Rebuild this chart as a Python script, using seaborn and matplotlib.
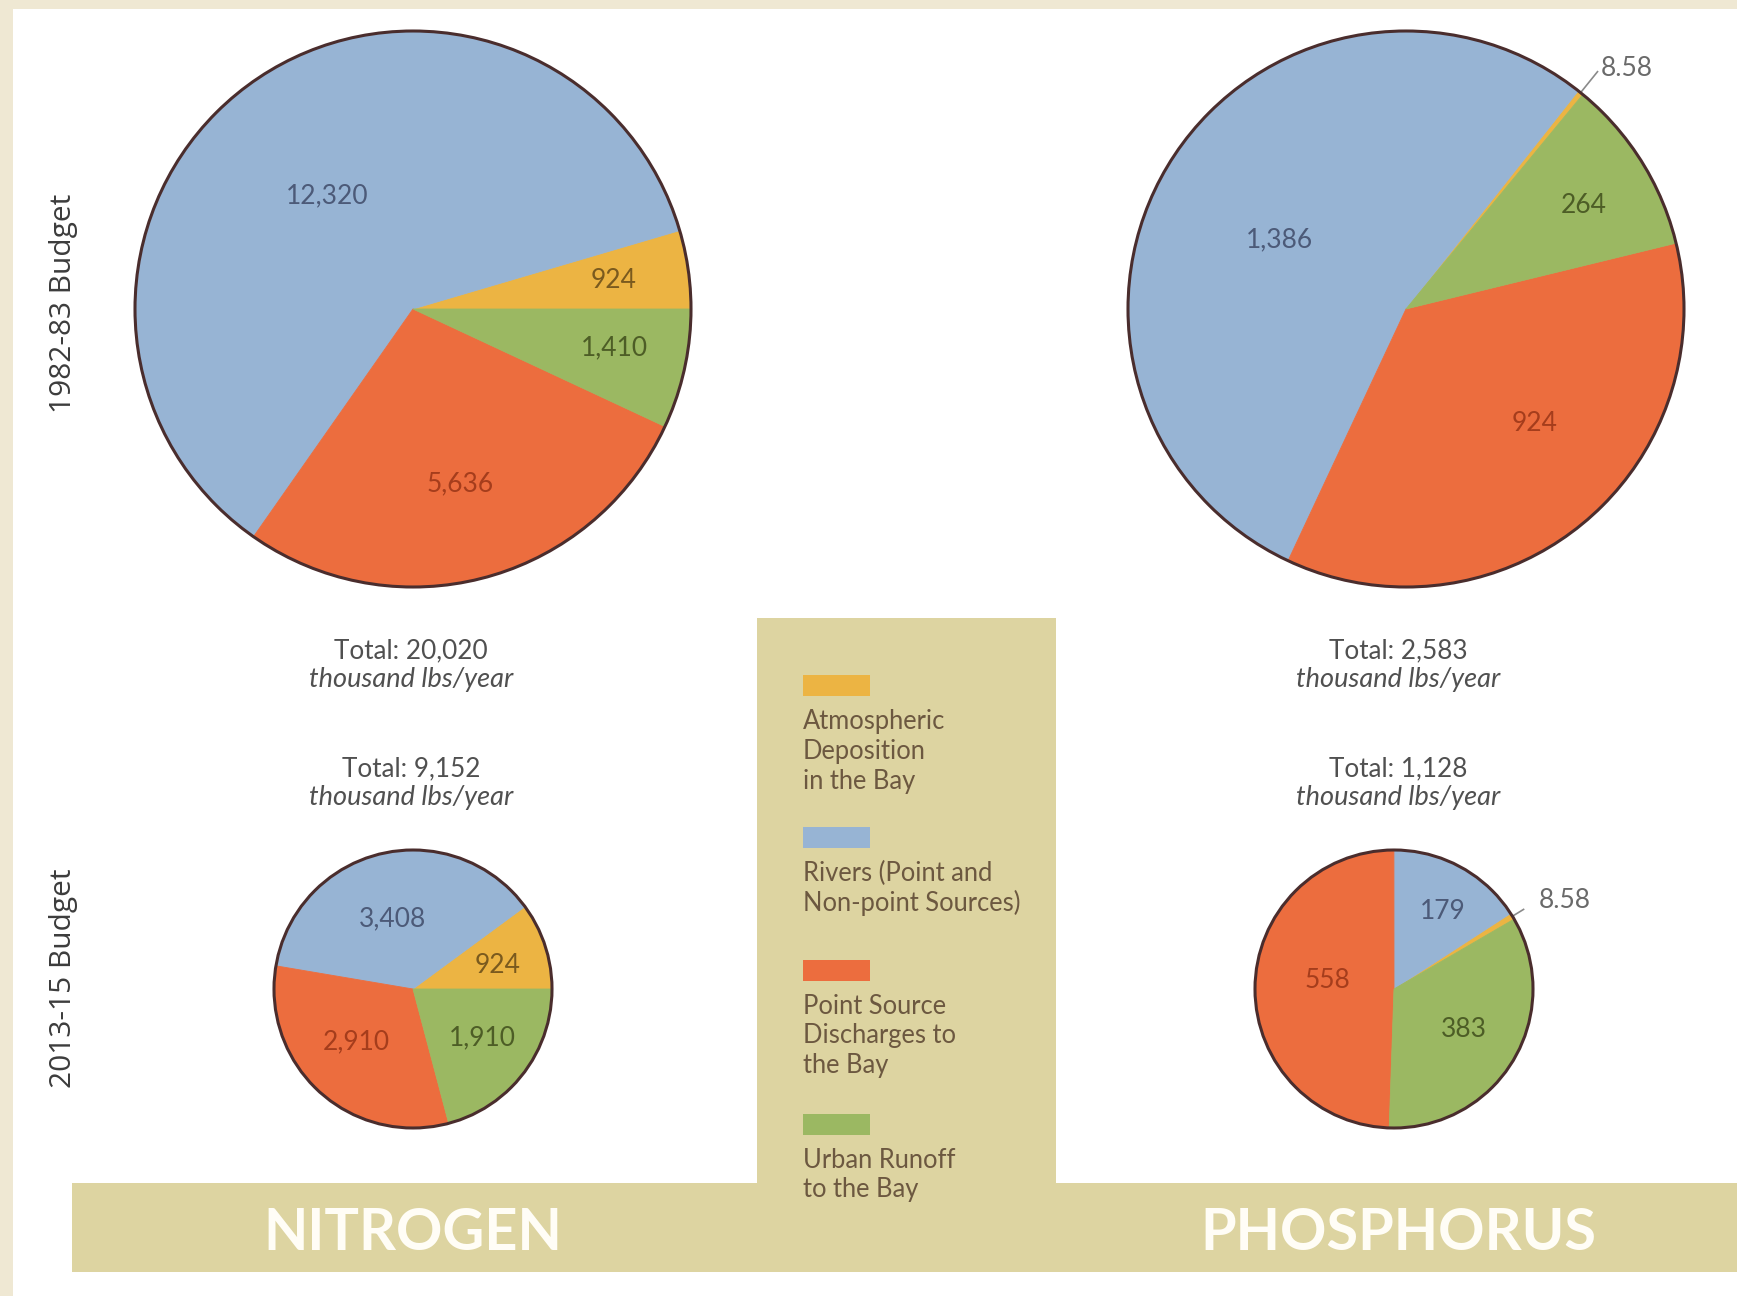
import numpy as np
import matplotlib
matplotlib.use("Agg")
import matplotlib.pyplot as plt
from matplotlib.patches import Rectangle, Circle
import seaborn as sns

# ---- data (thousand lbs/year) ----
sources = ["Atmospheric Deposition in the Bay",
           "Rivers (Point and Non-point Sources)",
           "Point Source Discharges to the Bay",
           "Urban Runoff to the Bay"]
legend_labels = ["Atmospheric\nDeposition\nin the Bay",
                 "Rivers (Point and\nNon-point Sources)",
                 "Point Source\nDischarges to\nthe Bay",
                 "Urban Runoff\nto the Bay"]
nitrogen_1982 = [924, 12320, 5636, 1410]
nitrogen_2013 = [924, 3408, 2910, 1910]
phosphorus_1982 = [8.58, 1386, 924, 264]
phosphorus_2013 = [8.58, 179, 558, 383]
total_n_1982 = 20020
total_n_2013 = 9152
total_p_1982 = 2583
total_p_2013 = 1128
period_labels = ["1982-83 Budget", "2013-15 Budget"]
nutrient_labels = ["NITROGEN", "PHOSPHORUS"]

# ---- styling ----
W, H = 1737, 1296
sns.set_theme(style="white")
plt.rcParams["font.family"] = ["Lato", "DejaVu Sans"]

slice_colors = sns.color_palette(["#ecb443", "#97b4d4", "#ec6d3e", "#9bb862"])
text_colors = ["#7a5a1e", "#4c5a78", "#a53d1c", "#4d5d26"]
tan = "#ddd4a1"
cream = "#efe8d3"
outline = "#4a2d2d"
PAD = 1.5

fig = plt.figure(figsize=(W / 100, H / 100), dpi=100, facecolor="white")
bg = fig.add_axes([0, 0, 1, 1])
bg.set_xlim(0, W)
bg.set_ylim(H, 0)
bg.axis("off")

# page frame strips
bg.add_patch(Rectangle((0, 0), 13, H, color=cream, lw=0))
bg.add_patch(Rectangle((0, 0), W, 9, color=cream, lw=0))

# bottom banner and legend panel
bg.add_patch(Rectangle((72, 1183), W - 72, 89, color=tan, lw=0))
bg.add_patch(Rectangle((757, 618), 299, 570, color=tan, lw=0))
for label, x in zip(nutrient_labels, [413, 1398]):
    bg.text(x, 1233, label, ha="center", va="center", fontsize=41.5,
            fontweight="bold", color="#fffdf6")

# legend
swatch_y = [685, 837, 970, 1124]
line_h = 30
for color, label, y in zip(slice_colors, legend_labels, swatch_y):
    bg.add_patch(Rectangle((803, y - 10.5), 67, 21, color=color, lw=0))
    for i, line in enumerate(label.split("\n")):
        bg.text(803, y + 36 + i * line_h, line, ha="left", va="center",
                fontsize=18.4, color="#6c5840")

# period labels on the left
for label, y in zip(period_labels, [303, 978]):
    bg.text(64, y, label, rotation=90, ha="center", va="center",
            fontsize=21.5, color="#3c3c3c", family=["Open Sans", "DejaVu Sans"])

# totals
for total, x, y in [(total_n_1982, 411, 651), (total_n_2013, 411, 769),
                    (total_p_1982, 1398, 651), (total_p_2013, 1398, 769)]:
    bg.text(x, y, f"Total: {total:,}", ha="center", va="center",
            fontsize=18.8, color="#505050")
    bg.text(x, y + 29, "thousand lbs/year", ha="center", va="center",
            fontsize=19.5, style="italic", color="#505050")


def pie_axes(cx, cy, r):
    half = r * PAD
    return fig.add_axes([(cx - half) / W, 1 - (cy + half) / H,
                         2 * half / W, 2 * half / H])


def draw_pie(cx, cy, r, values, start, label_pos, outside=None,
             outside_offset=(5, 6)):
    ax = pie_axes(cx, cy, r)
    wedges, _ = ax.pie(values, colors=slice_colors, startangle=start,
                       counterclock=True, radius=1,
                       wedgeprops=dict(linewidth=0.6))
    ax.set_xlim(-PAD, PAD)
    ax.set_ylim(-PAD, PAD)
    ax.set_aspect("equal")
    ax.axis("off")
    for w in wedges:
        w.set_edgecolor(w.get_facecolor())
    ax.add_patch(Circle((0, 0), 1, fill=False, ec=outline, lw=2.2, zorder=5))
    for i, (w, v) in enumerate(zip(wedges, values)):
        mid = 0.5 * (w.theta1 + w.theta2)
        text = f"{v:,g}"
        if outside is not None and i == outside:
            a = np.deg2rad(mid)
            x0, y0 = np.cos(a), np.sin(a)
            ax.plot([1.0 * x0, 1.1 * x0], [1.0 * y0, 1.1 * y0],
                    color="#8a8a8a", lw=1.2, solid_capstyle="butt")
            ax.annotate(text, xy=(1.1 * x0, 1.1 * y0), xytext=outside_offset,
                        textcoords="offset points", ha="left", va="center",
                        fontsize=19, color="#6a6a6a")
            continue
        dist, nudge = label_pos[i]
        a = np.deg2rad(mid + nudge)
        ax.text(dist * np.cos(a), dist * np.sin(a), text, ha="center",
                va="center", fontsize=19, color=text_colors[i], zorder=6)
    return ax


draw_pie(413, 309, 278, nitrogen_1982, 0,
         [(0.73, 0), (0.51, 1.3), (0.65, 0), (0.74, 1.5)])
draw_pie(1406, 309, 278, phosphorus_1982, 50.5,
         [None, (0.52, 3), (0.62, 9), (0.74, -2)], outside=0,
         outside_offset=(2, 2))
draw_pie(413, 989, 139, nitrogen_2013, 0,
         [(0.63, -2.6), (0.53, 3), (0.56, -4.6), (0.61, 2.6)])
draw_pie(1394, 989, 139, phosphorus_2013, 30.2,
         [None, (0.66, -3.5), (0.48, -6), (0.58, 1)], outside=0,
         outside_offset=(10.5, 6))

fig.savefig("out.png", dpi=100, facecolor="white")
